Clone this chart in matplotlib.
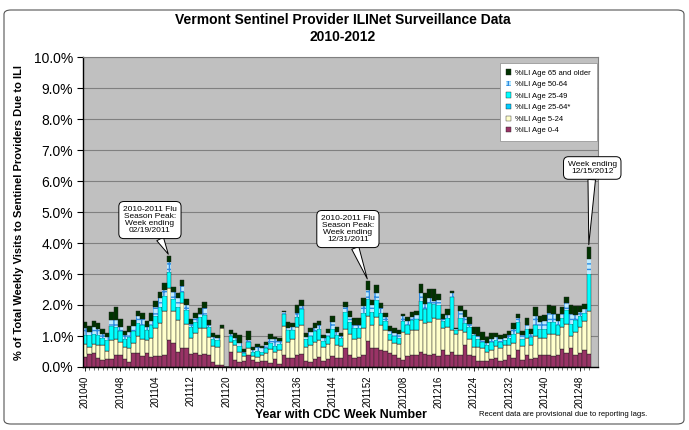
import matplotlib
matplotlib.use("Agg")
import matplotlib.pyplot as plt
from matplotlib.patches import FancyBboxPatch
import numpy as np

plt.rcParams['font.family'] = ['Liberation Sans', 'DejaVu Sans']

# week labels shown on the x axis (every 8th week)
tick_labels = ["201040", "201048", "201104", "201112", "201120", "201128", "201136",
               "201144", "201152", "201208", "201216", "201224", "201232", "201240", "201248"]

# %ILI by age group, one value per week from 2010 wk 40 to 2012 wk 50
age_0_4 = [0.33, 0.42, 0.44, 0.30, 0.22, 0.25, 0.27, 0.40, 0.38, 0.26, 0.15, 0.45, 0.44, 0.36, 0.44, 0.32,
           0.34, 0.37, 0.38, 0.88, 0.78, 0.48, 0.62, 0.60, 0.42, 0.44, 0.40, 0.42, 0.38, 0.16, 0.08, 0.05,
           0.00, 0.48, 0.22, 0.15, 0.18, 0.40, 0.22, 0.15, 0.18, 0.20, 0.14, 0.25, 0.10, 0.38, 0.30, 0.28,
           0.40, 0.42, 0.18, 0.15, 0.25, 0.32, 0.18, 0.25, 0.35, 0.30, 0.30, 0.60, 0.40, 0.30, 0.32, 0.40,
           0.85, 0.62, 0.60, 0.55, 0.52, 0.45, 0.38, 0.28, 0.22, 0.34, 0.38, 0.40, 0.48, 0.42, 0.40, 0.42,
           0.35, 0.55, 0.38, 0.48, 0.38, 0.40, 0.72, 0.40, 0.35, 0.18, 0.20, 0.20, 0.25, 0.30, 0.20, 0.22,
           0.40, 0.28, 0.55, 0.22, 0.38, 0.25, 0.30, 0.38, 0.40, 0.38, 0.35, 0.40, 0.58, 0.45, 0.60, 0.38,
           0.45, 0.55, 0.42]
age_5_24 = [0.41, 0.24, 0.30, 0.42, 0.48, 0.27, 0.60, 0.50, 0.42, 0.40, 0.46, 0.32, 0.55, 0.54, 0.42, 0.62,
            0.92, 1.06, 1.42, 1.67, 1.02, 1.04, 1.45, 0.80, 0.52, 0.66, 0.86, 0.85, 0.60, 0.52, 0.55, 1.22,
            0.00, 0.34, 0.50, 0.32, 0.16, 0.20, 0.12, 0.18, 0.20, 0.26, 0.44, 0.24, 0.45, 0.95, 0.52, 0.62,
            0.90, 0.92, 0.45, 0.55, 0.55, 0.55, 0.45, 0.50, 0.60, 0.42, 0.38, 0.62, 0.66, 0.60, 0.62, 0.85,
            0.80, 0.72, 1.00, 0.80, 0.68, 0.42, 0.40, 0.45, 0.90, 0.72, 0.82, 0.80, 1.05, 1.00, 1.05, 1.15,
            1.20, 0.70, 0.90, 0.70, 0.70, 0.78, 0.40, 0.50, 0.30, 0.48, 0.40, 0.30, 0.30, 0.38, 0.40, 0.48,
            0.30, 0.50, 0.55, 0.45, 0.55, 0.45, 0.70, 0.55, 0.52, 0.68, 0.70, 0.62, 0.72, 0.95, 0.40, 0.75,
            0.85, 0.95, 1.38]
age_25_49 = [0.30, 0.36, 0.32, 0.30, 0.25, 0.36, 0.45, 0.40, 0.36, 0.24, 0.35, 0.40, 0.42, 0.44, 0.34, 0.42,
             0.40, 0.50, 0.48, 0.50, 0.40, 0.42, 0.35, 0.45, 0.34, 0.36, 0.36, 0.40, 0.30, 0.22, 0.25, 0.00,
             0.00, 0.18, 0.15, 0.22, 0.10, 0.20, 0.15, 0.20, 0.12, 0.15, 0.18, 0.20, 0.20, 0.38, 0.36, 0.30,
             0.30, 0.52, 0.26, 0.30, 0.35, 0.35, 0.22, 0.25, 0.28, 0.30, 0.25, 0.55, 0.40, 0.35, 0.32, 0.50,
             0.55, 0.45, 0.55, 0.40, 0.30, 0.20, 0.22, 0.22, 0.38, 0.30, 0.32, 0.35, 0.60, 0.45, 0.60, 0.45,
             0.45, 0.25, 0.30, 1.08, 0.12, 0.40, 0.30, 0.40, 0.38, 0.25, 0.20, 0.20, 0.25, 0.18, 0.22, 0.18,
             0.22, 0.30, 0.35, 0.22, 0.28, 0.28, 0.35, 0.28, 0.30, 0.38, 0.40, 0.35, 0.28, 0.45, 0.40, 0.40,
             0.35, 0.25, 1.20]
age_25_64 = [0.0] * 115
age_50_64 = [0.22, 0.12, 0.24, 0.19, 0.12, 0.10, 0.20, 0.22, 0.12, 0.12, 0.16, 0.15, 0.22, 0.22, 0.10, 0.14,
             0.28, 0.28, 0.22, 0.35, 0.22, 0.28, 0.18, 0.15, 0.10, 0.12, 0.10, 0.23, 0.08, 0.08, 0.05, 0.00,
             0.00, 0.07, 0.08, 0.10, 0.05, 0.08, 0.06, 0.10, 0.10, 0.10, 0.15, 0.20, 0.10, 0.05, 0.08, 0.08,
             0.15, 0.12, 0.08, 0.12, 0.12, 0.12, 0.08, 0.10, 0.22, 0.12, 0.08, 0.18, 0.16, 0.12, 0.10, 0.22,
             0.30, 0.22, 0.25, 0.15, 0.10, 0.10, 0.10, 0.10, 0.15, 0.12, 0.10, 0.12, 0.25, 0.15, 0.16, 0.12,
             0.16, 0.06, 0.10, 0.12, 0.03, 0.22, 0.18, 0.10, 0.05, 0.10, 0.08, 0.07, 0.10, 0.10, 0.08, 0.07,
             0.10, 0.14, 0.12, 0.13, 0.15, 0.10, 0.30, 0.25, 0.26, 0.30, 0.25, 0.12, 0.12, 0.20, 0.30, 0.15,
             0.12, 0.12, 0.50]
age_65_up = [0.20, 0.18, 0.18, 0.20, 0.17, 0.13, 0.26, 0.40, 0.26, 0.15, 0.20, 0.20, 0.18, 0.19, 0.17, 0.23,
             0.20, 0.22, 0.22, 0.18, 0.17, 0.16, 0.20, 0.18, 0.16, 0.15, 0.17, 0.20, 0.16, 0.11, 0.10, 0.08,
             0.00, 0.12, 0.16, 0.25, 0.08, 0.29, 0.08, 0.10, 0.08, 0.09, 0.15, 0.09, 0.07, 0.05, 0.20, 0.15,
             0.25, 0.18, 0.12, 0.13, 0.14, 0.15, 0.10, 0.12, 0.20, 0.14, 0.10, 0.14, 0.20, 0.20, 0.21, 0.25,
             0.28, 0.15, 0.25, 0.18, 0.15, 0.15, 0.15, 0.14, 0.06, 0.14, 0.16, 0.15, 0.30, 0.38, 0.30, 0.37,
             0.20, 0.15, 0.18, 0.08, 0.02, 0.17, 0.24, 0.22, 0.20, 0.27, 0.24, 0.20, 0.20, 0.14, 0.13, 0.10,
             0.15, 0.20, 0.15, 0.15, 0.21, 0.14, 0.27, 0.19, 0.20, 0.26, 0.27, 0.22, 0.22, 0.20, 0.30, 0.30,
             0.21, 0.15, 0.38]

weeks = np.arange(len(age_0_4))

fig = plt.figure(figsize=(6.89, 4.30), dpi=100)
fig.patches.append(FancyBboxPatch((4 / 689, 6 / 430), 680 / 689, 414 / 430,
                                  boxstyle="round,pad=0,rounding_size=0.01",
                                  transform=fig.transFigure, fill=False,
                                  ec="#555555", lw=0.8))

ax = fig.add_axes([83 / 689, 1 - 367 / 430, (598 - 83) / 689, (367 - 57) / 430])
ax.set_facecolor("#C0C0C0")

edge = dict(edgecolor="#222222", linewidth=0.3)
bottom = np.zeros(len(weeks))
ax.bar(weeks, age_0_4, width=1.0, bottom=bottom, color="#993366", label="%ILI Age 0-4", **edge)
bottom += age_0_4
ax.bar(weeks, age_5_24, width=1.0, bottom=bottom, color="#FFFFCC", label="%ILI Age 5-24", **edge)
bottom += age_5_24
ax.bar(weeks, age_25_64, width=1.0, bottom=bottom, color="#00CCFF", label="%ILI Age 25-64*", **edge)
bottom += age_25_64
ax.bar(weeks, age_25_49, width=1.0, bottom=bottom, color="#00FFFF", label="%ILI Age 25-49", **edge)
bottom += age_25_49
plt.rcParams['hatch.color'] = "#2E8BE0"
plt.rcParams['hatch.linewidth'] = 1.0
ax.bar(weeks, age_50_64, width=1.0, bottom=bottom, color="#BDEBFF", hatch="+++",
       linewidth=0, label="%ILI Age 50-64")
bottom += age_50_64
ax.bar(weeks, age_65_up, width=1.0, bottom=bottom, color="#003300", label="%ILI Age 65 and older", **edge)

ax.set_xlim(-0.45, 116.1)
ax.set_ylim(0, 10)
ax.set_yticks(np.arange(0, 11, 1))
ax.set_yticklabels([f"{v:.1f}%" for v in range(0, 11)], fontsize=10)
ax.yaxis.grid(True, color="#808080", linewidth=0.8)
ax.set_axisbelow(True)
ax.tick_params(axis="y", length=4, width=0.8, pad=3)

ax.set_xticks(np.arange(0, 113, 8))
ax.set_xticklabels(tick_labels, rotation=90, fontsize=7)
ax.set_xticks(weeks, minor=True)
ax.tick_params(axis="x", which="major", length=3, width=0.6, pad=3)
ax.tick_params(axis="x", which="minor", length=2, width=0.4)

for s in ["top", "right"]:
    ax.spines[s].set_color("#808080")
for s in ["left", "bottom"]:
    ax.spines[s].set_color("black")
    ax.spines[s].set_linewidth(1.0)

ax.set_xlabel("Year with CDC Week Number", fontsize=9, fontweight="bold", labelpad=1)
ax.set_ylabel("% of Total Weekly Visits to Sentinel Providers Due to ILI", fontsize=8,
              fontweight="bold", labelpad=7)

fig.text(0.497, 1 - 20 / 430, "Vermont Sentinel Provider ILINet Surveillance Data",
         ha="center", va="center", fontsize=10, fontweight="bold")
fig.text(0.497, 1 - 37 / 430, "2010-2012", ha="center", va="center", fontsize=10, fontweight="bold")
fig.text(479 / 689, 1 - 414 / 430, "Recent data are provisional due to reporting lags.",
         ha="left", va="center", fontsize=5.5)

# legend (reversed order as in the original)
handles, labels = ax.get_legend_handles_labels()
order = [5, 4, 3, 2, 1, 0]
leg = ax.legend([handles[i] for i in order], [labels[i] for i in order],
                loc="upper right", bbox_to_anchor=(0.998, 0.98), fontsize=5.5,
                frameon=True, fancybox=False, edgecolor="#999999", framealpha=1,
                handlelength=0.7, handleheight=0.7, handletextpad=0.5,
                labelspacing=0.55, borderpad=0.8, borderaxespad=0)
leg.get_frame().set_linewidth(0.6)

# callouts
callout = dict(boxstyle="round,pad=0.5,rounding_size=0.6", fc="white", ec="black", lw=0.7)
arrow = dict(arrowstyle="wedge,tail_width=0.9,shrink_factor=0.5", fc="white", ec="black",
             lw=0.7, shrinkA=0, shrinkB=1)
ax.annotate("2010-2011 Flu\nSeason Peak:\nWeek ending\n02/19/2011", xy=(19, 3.6),
            xytext=(14.7, 4.74), ha="center", va="center", fontsize=6, linespacing=1.05,
            bbox=callout, arrowprops=arrow, annotation_clip=False)
ax.annotate("2010-2011 Flu\nSeason Peak:\nWeek ending\n12/31/2011", xy=(64, 2.8),
            xytext=(59.5, 4.45), ha="center", va="center", fontsize=6, linespacing=1.05,
            bbox=callout, arrowprops=arrow, annotation_clip=False)
ax.annotate("Week ending\n12/15/2012", xy=(114, 3.9),
            xytext=(114.8, 6.42), ha="center", va="center", fontsize=6, linespacing=1.05,
            bbox=callout, arrowprops=arrow, annotation_clip=False)

fig.savefig("out.png", dpi=100)
